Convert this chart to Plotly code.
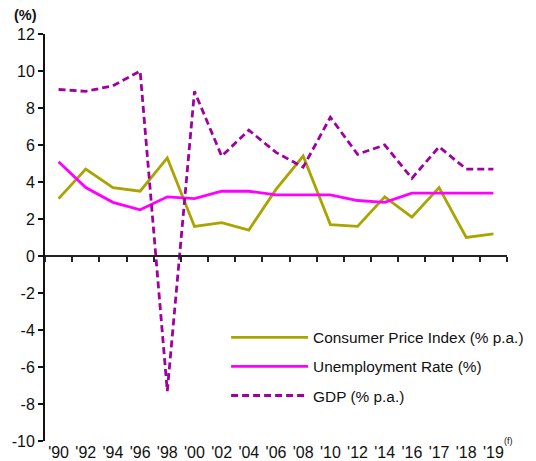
import plotly.graph_objects as go

years = ["'90", "'92", "'94", "'96", "'98", "'00", "'02", "'04", "'06", "'08",
         "'10", "'12", "'14", "'16", "'17", "'18", "'19"]
cpi = [3.1, 4.7, 3.7, 3.5, 5.3, 1.6, 1.8, 1.4, 3.6, 5.4, 1.7, 1.6, 3.2, 2.1, 3.7, 1.0, 1.2]
unemployment = [5.1, 3.7, 2.9, 2.5, 3.2, 3.1, 3.5, 3.5, 3.3, 3.3, 3.3, 3.0, 2.9, 3.4, 3.4, 3.4, 3.4]
gdp = [9.0, 8.9, 9.2, 10.0, -7.3, 8.9, 5.4, 6.8, 5.6, 4.8, 7.5, 5.5, 6.0, 4.2, 5.9, 4.7, 4.7]
y_ticks = [12, 10, 8, 6, 4, 2, 0, -2, -4, -6, -8, -10]
y_tick_text = ["12", "10", "8", "6", "4", "2", "0", "-2", "-4", "-6", "-8", "-10"]

FONT = "Liberation Sans, Arial, sans-serif"
FS = 16
fig = go.Figure()
fig.add_trace(go.Scatter(x=years, y=cpi, mode="lines", name="Consumer Price Index (% p.a.)",
                         line=dict(color="#A9A400", width=2.8), legendgroup="a"))
fig.add_trace(go.Scatter(x=years, y=unemployment, mode="lines", name="Unemployment Rate (%)",
                         line=dict(color="#FF00FF", width=2.8), legendgroup="b"))
fig.add_trace(go.Scatter(x=years, y=gdp, mode="lines", name="GDP (% p.a.)",
                         line=dict(color="#A000A0", width=2.8, dash="7px,4px"), legendgroup="c"))
# helper trace carrying the zero-line axis
fig.add_trace(go.Scatter(x=years, y=[None] * len(years), xaxis="x2", yaxis="y",
                         showlegend=False, hoverinfo="skip", mode="lines"))

# page body has an 8px margin, so the figure is sized to fit the 536x461 window
fig.update_layout(
    width=528, height=453,
    margin=dict(l=37, r=29, t=26, b=20, autoexpand=False),
    paper_bgcolor="white", plot_bgcolor="white",
    font=dict(family=FONT, size=FS, color="#111"),
    showlegend=True,
    legend=dict(x=0.392, y=0.295, xanchor="left", yanchor="top", bgcolor="rgba(0,0,0,0)",
                font=dict(size=15.4, color="#111"), itemwidth=77, tracegroupgap=6),
    xaxis=dict(type="category", range=[-0.5, 16.5], showline=False, ticks="",
               automargin=False,
               showgrid=False, zeroline=False, tickfont=dict(size=FS, color="#111")),
    xaxis2=dict(type="category", matches="x", overlaying="x", anchor="free",
                position=10 / 22, showline=True, linecolor="#222", linewidth=2,
                automargin=False,
                ticks="outside", tickson="boundaries", ticklen=5, tickwidth=2,
                tickcolor="#222", showticklabels=False, showgrid=False, zeroline=False),
    yaxis=dict(range=[-10, 12], tickvals=y_ticks, ticktext=y_tick_text,
               showline=True, linecolor="#111", linewidth=2, automargin=False,
               ticks="outside", ticklen=5, tickwidth=2, tickcolor="#111",
               showgrid=False, zeroline=False, tickfont=dict(size=FS, color="#111")),
    annotations=[
        dict(text="<b>(%)</b>", xref="paper", yref="paper", x=-0.042, y=1.0467,
             xanchor="center", yanchor="middle", showarrow=False, font=dict(size=14.5, color="#111")),
        dict(text="(f)", xref="paper", yref="paper", x=0.99, y=0.0,
             xanchor="left", yanchor="middle", showarrow=False, font=dict(size=9, color="#111")),
    ],
)

fig.write_html("out.html")
